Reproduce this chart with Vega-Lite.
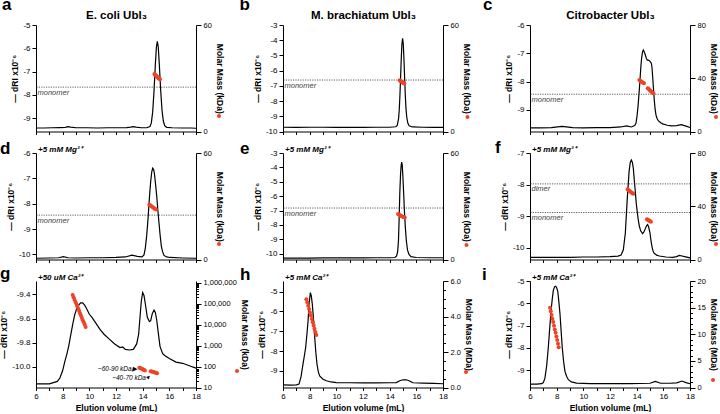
{
"$schema": "https://vega.github.io/schema/vega-lite/v6.json",
"padding": {"left": -1, "top": -5, "right": 0, "bottom": 0},
"config": {"font": "Liberation Sans", "view": {"stroke": null},
  "axis": {"grid": false, "domainColor": "#000", "tickColor": "#000", "labelColor": "#000", "titleColor": "#000", "labelFontSize": 8, "titleFontSize": 8.5, "titleFontWeight": "bold", "tickSize": 4, "labelPadding": 2, "titlePadding": 3, "domainWidth": 1, "tickWidth": 1, "labelFlush": false, "labelOverlap": false},
  "title": {"fontWeight": "bold", "color": "#000", "fontSize": 17, "anchor": "start", "frame": "group", "baseline": "alphabetic", "align": "left"}},
"datasets": {
"one": [{}],
"ri_a": [{"v":6,"ri":-9.42},{"v":6.6,"ri":-9.42},{"v":7.2,"ri":-9.41},{"v":7.8,"ri":-9.4},{"v":8.2,"ri":-9.39},{"v":8.4,"ri":-9.36},{"v":8.6,"ri":-9.38},{"v":9,"ri":-9.41},{"v":9.8,"ri":-9.41},{"v":10.6,"ri":-9.42},{"v":11.4,"ri":-9.41},{"v":12.2,"ri":-9.41},{"v":12.8,"ri":-9.4},{"v":13.1,"ri":-9.38},{"v":13.3,"ri":-9.36},{"v":13.5,"ri":-9.38},{"v":13.9,"ri":-9.41},{"v":14.3,"ri":-9.41},{"v":14.55,"ri":-9.36},{"v":14.65,"ri":-9.2},{"v":14.75,"ri":-8.74},{"v":14.85,"ri":-7.86},{"v":14.95,"ri":-6.7},{"v":15.03,"ri":-5.95},{"v":15.1,"ri":-5.7},{"v":15.17,"ri":-5.95},{"v":15.25,"ri":-6.7},{"v":15.35,"ri":-7.8},{"v":15.45,"ri":-8.65},{"v":15.55,"ri":-9.12},{"v":15.65,"ri":-9.32},{"v":15.8,"ri":-9.39},{"v":16.2,"ri":-9.41},{"v":17,"ri":-9.42},{"v":17.6,"ri":-9.42},{"v":18,"ri":-9.43}],
"mm_a": [{"v":14.88,"m":32.4},{"v":14.93,"m":32.0},{"v":14.98,"m":31.6},{"v":15.03,"m":31.2},{"v":15.08,"m":30.8},{"v":15.13,"m":30.4},{"v":15.18,"m":30.0},{"v":15.23,"m":29.7},{"v":15.3,"m":29.4}],
"ref_a": [{"label":"monomer","m":25}],
"ri_b": [{"v":6,"ri":-9.72},{"v":7,"ri":-9.73},{"v":8,"ri":-9.72},{"v":9,"ri":-9.72},{"v":10,"ri":-9.73},{"v":11,"ri":-9.72},{"v":12,"ri":-9.73},{"v":13,"ri":-9.72},{"v":14,"ri":-9.72},{"v":14.45,"ri":-9.69},{"v":14.57,"ri":-9.6},{"v":14.67,"ri":-9.14},{"v":14.72,"ri":-8.55},{"v":14.77,"ri":-7.62},{"v":14.82,"ri":-6.43},{"v":14.87,"ri":-5.2},{"v":14.92,"ri":-4.23},{"v":14.97,"ri":-3.88},{"v":15.02,"ri":-4.23},{"v":15.07,"ri":-5.2},{"v":15.12,"ri":-6.43},{"v":15.17,"ri":-7.55},{"v":15.22,"ri":-8.45},{"v":15.28,"ri":-9.05},{"v":15.36,"ri":-9.45},{"v":15.46,"ri":-9.62},{"v":15.7,"ri":-9.7},{"v":16.5,"ri":-9.72},{"v":17.3,"ri":-9.73},{"v":18,"ri":-9.73}],
"mm_b": [{"v":14.75,"m":28.9},{"v":14.8,"m":28.6},{"v":14.85,"m":28.3},{"v":14.9,"m":28.0},{"v":14.95,"m":27.7},{"v":15.0,"m":27.4},{"v":15.05,"m":27.2},{"v":15.1,"m":27.0}],
"ref_b": [{"label":"monomer","m":29}],
"ri_c": [{"v":6,"ri":-9.63},{"v":6.8,"ri":-9.63},{"v":7.6,"ri":-9.62},{"v":8.4,"ri":-9.58},{"v":9.2,"ri":-9.62},{"v":10,"ri":-9.63},{"v":11,"ri":-9.62},{"v":12,"ri":-9.62},{"v":12.8,"ri":-9.6},{"v":13.25,"ri":-9.56},{"v":13.6,"ri":-9.6},{"v":13.85,"ri":-9.55},{"v":13.95,"ri":-9.47},{"v":14.03,"ri":-9.2},{"v":14.1,"ri":-8.88},{"v":14.18,"ri":-8.4},{"v":14.25,"ri":-7.94},{"v":14.31,"ri":-7.5},{"v":14.37,"ri":-7.18},{"v":14.44,"ri":-6.95},{"v":14.5,"ri":-6.88},{"v":14.57,"ri":-6.95},{"v":14.65,"ri":-7.06},{"v":14.73,"ri":-7.18},{"v":14.8,"ri":-7.24},{"v":14.88,"ri":-7.24},{"v":14.95,"ri":-7.26},{"v":15.03,"ri":-7.3},{"v":15.1,"ri":-7.35},{"v":15.15,"ri":-7.5},{"v":15.2,"ri":-7.82},{"v":15.26,"ri":-8.25},{"v":15.32,"ri":-8.65},{"v":15.38,"ri":-8.95},{"v":15.45,"ri":-9.18},{"v":15.53,"ri":-9.3},{"v":15.62,"ri":-9.38},{"v":15.8,"ri":-9.45},{"v":15.95,"ri":-9.49},{"v":16.3,"ri":-9.54},{"v":16.6,"ri":-9.56},{"v":17,"ri":-9.55},{"v":17.35,"ri":-9.52},{"v":17.7,"ri":-9.57},{"v":18,"ri":-9.62}],
"mm_c": [{"v":14.2,"m":38.6},{"v":14.27,"m":38.1},{"v":14.34,"m":37.6},{"v":14.41,"m":37.0},{"v":14.48,"m":36.6},{"v":14.55,"m":36.3},{"v":14.83,"m":32.5},{"v":14.9,"m":31.9},{"v":14.97,"m":31.2},{"v":15.04,"m":30.5},{"v":15.11,"m":29.9},{"v":15.18,"m":29.3},{"v":15.25,"m":28.8}],
"ref_c": [{"label":"monomer","m":28}],
"ri_d": [{"v":6,"ri":-10.15},{"v":7,"ri":-10.14},{"v":7.7,"ri":-10.13},{"v":8.05,"ri":-10.09},{"v":8.4,"ri":-10.13},{"v":9,"ri":-10.14},{"v":10,"ri":-10.13},{"v":11,"ri":-10.13},{"v":12,"ri":-10.12},{"v":12.7,"ri":-10.1},{"v":13.2,"ri":-10.03},{"v":13.6,"ri":-10.08},{"v":13.95,"ri":-10.1},{"v":14.1,"ri":-10.02},{"v":14.2,"ri":-9.75},{"v":14.3,"ri":-9.27},{"v":14.38,"ri":-8.75},{"v":14.45,"ri":-8.2},{"v":14.53,"ri":-7.6},{"v":14.6,"ri":-7.13},{"v":14.68,"ri":-6.75},{"v":14.75,"ri":-6.6},{"v":14.82,"ri":-6.65},{"v":14.88,"ri":-6.8},{"v":14.96,"ri":-7.2},{"v":15.05,"ri":-7.67},{"v":15.13,"ri":-8.2},{"v":15.22,"ri":-8.73},{"v":15.31,"ri":-9.25},{"v":15.4,"ri":-9.67},{"v":15.5,"ri":-9.9},{"v":15.6,"ri":-10.04},{"v":15.8,"ri":-10.1},{"v":16.05,"ri":-10.12},{"v":17,"ri":-10.14},{"v":18,"ri":-10.15}],
"mm_d": [{"v":14.5,"m":30.9},{"v":14.57,"m":30.5},{"v":14.64,"m":30.1},{"v":14.71,"m":29.7},{"v":14.78,"m":29.3},{"v":14.86,"m":28.9},{"v":14.93,"m":28.5},{"v":15.0,"m":28.2}],
"ref_d": [{"label":"monomer","m":25}],
"ri_e": [{"v":6,"ri":-10.3},{"v":7,"ri":-10.3},{"v":8,"ri":-10.3},{"v":9,"ri":-10.29},{"v":10,"ri":-10.29},{"v":11,"ri":-10.29},{"v":12,"ri":-10.29},{"v":13,"ri":-10.28},{"v":14,"ri":-10.28},{"v":14.4,"ri":-10.26},{"v":14.52,"ri":-10.15},{"v":14.6,"ri":-9.85},{"v":14.66,"ri":-9.1},{"v":14.71,"ri":-7.6},{"v":14.76,"ri":-5.8},{"v":14.82,"ri":-4.4},{"v":14.87,"ri":-3.8},{"v":14.9,"ri":-3.63},{"v":14.94,"ri":-3.8},{"v":14.99,"ri":-4.6},{"v":15.04,"ri":-5.6},{"v":15.1,"ri":-6.9},{"v":15.17,"ri":-8.1},{"v":15.25,"ri":-9.1},{"v":15.34,"ri":-9.75},{"v":15.45,"ri":-10.05},{"v":15.6,"ri":-10.2},{"v":16,"ri":-10.26},{"v":17,"ri":-10.28},{"v":18,"ri":-10.28}],
"mm_e": [{"v":14.63,"m":25.6},{"v":14.7,"m":25.3},{"v":14.77,"m":25.0},{"v":14.84,"m":24.7},{"v":14.91,"m":24.4},{"v":14.98,"m":24.1},{"v":15.05,"m":23.9},{"v":15.13,"m":23.7}],
"ref_e": [{"label":"monomer","m":29}],
"ri_f": [{"v":6,"ri":-10.31},{"v":7,"ri":-10.31},{"v":8,"ri":-10.31},{"v":9,"ri":-10.31},{"v":10,"ri":-10.3},{"v":11,"ri":-10.3},{"v":12,"ri":-10.29},{"v":12.6,"ri":-10.27},{"v":12.83,"ri":-10.24},{"v":13.0,"ri":-10.07},{"v":13.15,"ri":-9.54},{"v":13.28,"ri":-8.56},{"v":13.43,"ri":-7.59},{"v":13.52,"ri":-7.3},{"v":13.6,"ri":-7.22},{"v":13.68,"ri":-7.3},{"v":13.75,"ri":-7.49},{"v":13.82,"ri":-7.85},{"v":13.9,"ri":-8.24},{"v":13.97,"ri":-8.6},{"v":14.05,"ri":-8.89},{"v":14.12,"ri":-9.12},{"v":14.2,"ri":-9.32},{"v":14.3,"ri":-9.47},{"v":14.45,"ri":-9.56},{"v":14.55,"ri":-9.5},{"v":14.65,"ri":-9.4},{"v":14.75,"ri":-9.3},{"v":14.82,"ri":-9.27},{"v":14.9,"ri":-9.35},{"v":15.0,"ri":-9.54},{"v":15.08,"ri":-9.8},{"v":15.15,"ri":-9.97},{"v":15.22,"ri":-10.1},{"v":15.3,"ri":-10.18},{"v":15.5,"ri":-10.24},{"v":15.7,"ri":-10.27},{"v":16.2,"ri":-10.3},{"v":16.7,"ri":-10.31},{"v":17.0,"ri":-10.29},{"v":17.2,"ri":-10.25},{"v":17.4,"ri":-10.27},{"v":17.6,"ri":-10.29},{"v":18,"ri":-10.33}],
"mm_f": [{"v":13.32,"m":52.7},{"v":13.39,"m":52.1},{"v":13.46,"m":51.5},{"v":13.54,"m":50.9},{"v":13.61,"m":50.3},{"v":13.68,"m":49.8},{"v":13.75,"m":49.4},{"v":14.77,"m":30.3},{"v":14.83,"m":29.9},{"v":14.89,"m":29.5},{"v":14.95,"m":29.1},{"v":15.01,"m":28.7},{"v":15.07,"m":28.3}],
"ref_f": [{"label":"dimer","m":56.8},{"label":"monomer","m":35.3}],
"ri_g": [{"v":6,"ri":-10.14},{"v":6.5,"ri":-10.14},{"v":7,"ri":-10.14},{"v":7.3,"ri":-10.13},{"v":7.6,"ri":-10.12},{"v":7.8,"ri":-10.09},{"v":8.0,"ri":-10.03},{"v":8.15,"ri":-9.96},{"v":8.3,"ri":-9.9},{"v":8.45,"ri":-9.83},{"v":8.6,"ri":-9.74},{"v":8.75,"ri":-9.65},{"v":8.9,"ri":-9.57},{"v":9.05,"ri":-9.52},{"v":9.2,"ri":-9.49},{"v":9.35,"ri":-9.47},{"v":9.5,"ri":-9.47},{"v":9.65,"ri":-9.49},{"v":9.8,"ri":-9.52},{"v":10.0,"ri":-9.565},{"v":10.2,"ri":-9.59},{"v":10.5,"ri":-9.64},{"v":10.8,"ri":-9.69},{"v":11.1,"ri":-9.73},{"v":11.5,"ri":-9.77},{"v":11.9,"ri":-9.81},{"v":12.3,"ri":-9.84},{"v":12.5,"ri":-9.835},{"v":12.7,"ri":-9.855},{"v":13.0,"ri":-9.86},{"v":13.3,"ri":-9.855},{"v":13.55,"ri":-9.81},{"v":13.7,"ri":-9.73},{"v":13.8,"ri":-9.59},{"v":13.9,"ri":-9.455},{"v":14.0,"ri":-9.386},{"v":14.1,"ri":-9.41},{"v":14.2,"ri":-9.48},{"v":14.35,"ri":-9.59},{"v":14.5,"ri":-9.625},{"v":14.6,"ri":-9.62},{"v":14.72,"ri":-9.56},{"v":14.85,"ri":-9.53},{"v":14.95,"ri":-9.55},{"v":15.05,"ri":-9.61},{"v":15.15,"ri":-9.7},{"v":15.3,"ri":-9.83},{"v":15.5,"ri":-9.89},{"v":15.7,"ri":-9.91},{"v":16.0,"ri":-9.93},{"v":16.5,"ri":-9.96},{"v":17.0,"ri":-9.97},{"v":17.5,"ri":-9.99},{"v":18.0,"ri":-10.01}],
"mm_g": [{"v":8.75,"m":257000},{"v":8.82,"m":200000},{"v":8.89,"m":155000},{"v":8.96,"m":120000},{"v":9.03,"m":95500},{"v":9.1,"m":74100},{"v":9.17,"m":57500},{"v":9.24,"m":44700},{"v":9.3,"m":34700},{"v":9.37,"m":26900},{"v":9.44,"m":20900},{"v":9.51,"m":16200},{"v":9.58,"m":12900},{"v":9.65,"m":10000},{"v":9.72,"m":7760},{"v":13.75,"m":88},{"v":13.82,"m":84},{"v":13.89,"m":80},{"v":13.96,"m":76},{"v":14.03,"m":72},{"v":14.1,"m":68},{"v":14.17,"m":65},{"v":14.6,"m":60},{"v":14.68,"m":58},{"v":14.76,"m":56},{"v":14.84,"m":54},{"v":14.92,"m":52},{"v":15.0,"m":50},{"v":15.08,"m":48}],
"ri_h": [{"v":6,"ri":-9.71},{"v":6.6,"ri":-9.72},{"v":7,"ri":-9.71},{"v":7.2,"ri":-9.67},{"v":7.35,"ri":-9.3},{"v":7.5,"ri":-8.66},{"v":7.6,"ri":-8.25},{"v":7.7,"ri":-7.82},{"v":7.8,"ri":-7.1},{"v":7.88,"ri":-6.48},{"v":7.96,"ri":-5.6},{"v":8.05,"ri":-5.05},{"v":8.12,"ri":-5.2},{"v":8.2,"ri":-5.64},{"v":8.3,"ri":-6.5},{"v":8.38,"ri":-7.32},{"v":8.46,"ri":-8.05},{"v":8.55,"ri":-8.66},{"v":8.65,"ri":-9.05},{"v":8.75,"ri":-9.25},{"v":9,"ri":-9.42},{"v":9.25,"ri":-9.5},{"v":9.6,"ri":-9.56},{"v":10,"ri":-9.59},{"v":11,"ri":-9.6},{"v":12,"ri":-9.61},{"v":13,"ri":-9.61},{"v":14,"ri":-9.6},{"v":14.5,"ri":-9.59},{"v":14.75,"ri":-9.5},{"v":15,"ri":-9.45},{"v":15.25,"ri":-9.45},{"v":15.45,"ri":-9.5},{"v":15.75,"ri":-9.6},{"v":16.5,"ri":-9.62},{"v":17.3,"ri":-9.63},{"v":18,"ri":-9.65}],
"mm_h": [{"v":7.75,"m":4.97},{"v":7.82,"m":4.8},{"v":7.89,"m":4.6},{"v":7.96,"m":4.42},{"v":8.02,"m":4.23},{"v":8.09,"m":4.05},{"v":8.16,"m":3.86},{"v":8.23,"m":3.67},{"v":8.3,"m":3.5},{"v":8.36,"m":3.31},{"v":8.43,"m":3.13},{"v":8.5,"m":2.96}],
"ri_i": [{"v":6,"ri":-9.62},{"v":6.5,"ri":-9.62},{"v":6.88,"ri":-9.6},{"v":7.0,"ri":-9.55},{"v":7.12,"ri":-9.35},{"v":7.25,"ri":-8.8},{"v":7.37,"ri":-8.0},{"v":7.48,"ri":-7.1},{"v":7.58,"ri":-6.33},{"v":7.67,"ri":-5.8},{"v":7.75,"ri":-5.42},{"v":7.85,"ri":-5.25},{"v":7.93,"ri":-5.23},{"v":8.0,"ri":-5.3},{"v":8.08,"ri":-5.45},{"v":8.16,"ri":-5.9},{"v":8.25,"ri":-6.48},{"v":8.33,"ri":-7.2},{"v":8.42,"ri":-7.99},{"v":8.52,"ri":-8.6},{"v":8.62,"ri":-9.05},{"v":8.75,"ri":-9.28},{"v":8.88,"ri":-9.42},{"v":9.1,"ri":-9.52},{"v":9.5,"ri":-9.57},{"v":10.5,"ri":-9.6},{"v":12,"ri":-9.6},{"v":13.5,"ri":-9.6},{"v":15,"ri":-9.58},{"v":15.4,"ri":-9.5},{"v":15.8,"ri":-9.58},{"v":16.5,"ri":-9.58},{"v":17,"ri":-9.56},{"v":17.4,"ri":-9.48},{"v":17.7,"ri":-9.55},{"v":18,"ri":-9.6}],
"mm_i": [{"v":7.5,"m":15.0},{"v":7.56,"m":14.3},{"v":7.62,"m":13.6},{"v":7.68,"m":12.9},{"v":7.74,"m":12.3},{"v":7.8,"m":11.6},{"v":7.86,"m":10.9},{"v":7.92,"m":10.3},{"v":7.98,"m":9.6},{"v":8.04,"m":8.9},{"v":8.1,"m":8.2},{"v":8.15,"m":7.55}]
},
"columns": 3,
"bounds": "flush",
"align": "all",
"spacing": {"row": 21, "column": 87},
"resolve": {"scale": {"color": "independent"}, "legend": {"color": "independent"}},
"concat": [
{"width":160,"height":106.5,
 "title":{"text":"a","dx":-34,"offset":-4.5},
 "layer":[
  {"data":{"name":"ri_a"},"mark":{"type":"line","color":"#000","strokeWidth":1.2},
   "encoding":{"x":{"field":"v","type":"quantitative","scale":{"domain":[6,18],"nice":false,"zero":false},"axis":{"orient":"bottom","values":[6,7,8,9,10,11,12,13,14,15,16,17,18],"labels":false,"title":null,"tickSize":3}},
    "y":{"field":"ri","type":"quantitative","scale":{"domain":[-9.57,-5],"nice":false,"zero":false},"axis":{"orient":"left","values":[-9,-8,-7,-6,-5],"labelExpr":"replace(datum.label,'\u2212','-')","title":"— dRI x10⁻⁶"}}}},
  {"layer":[
    {"data":{"name":"ref_a"},"mark":{"type":"rule","color":"#333","strokeDash":[1.2,1.2],"strokeWidth":0.8},"encoding":{"y":{"field":"m","type":"quantitative"}}},
    {"data":{"name":"ref_a"},"mark":{"type":"text","align":"left","baseline":"top","dx":1.5,"dy":1.5,"fontStyle":"italic","fontSize":7.5,"color":"#444"},"encoding":{"x":{"datum":6,"type":"quantitative","scale":{"domain":[6,18],"nice":false,"zero":false}},"y":{"field":"m","type":"quantitative"},"text":{"field":"label"}}},
    {"data":{"name":"mm_a"},"mark":{"type":"point","filled":true,"size":16,"opacity":1},
     "encoding":{"x":{"field":"v","type":"quantitative","scale":{"domain":[6,18],"nice":false,"zero":false},"axis":{"orient":"top","domain":false,"ticks":false,"labels":false,"title":"E. coli Ubl₃","titleX":80,"titleY":-6.5,"titleAlign":"center","titleBaseline":"alphabetic","titleAngle":0,"titleFontSize":11.5}},
      "y":{"field":"m","type":"quantitative","scale":{"domain":[0,60],"nice":false,"zero":false},"axis":{"orient":"right","values":[0,5,10,15,20,25,30,35,40,45,50,55,60],"labelExpr":"datum.value % 20 === 0 ? datum.label : ''","tickSize":{"condition":{"test":"datum.value % 20 === 0","value":5},"value":2.5},"labelFontSize":7.5,"title":"Molar Mass (kDa)\u00a0\u00a0"}},
      "color":{"datum":"Molar Mass","type":"nominal","scale":{"range":["#ef4326"]},"legend":{"orient":"none","legendX":181,"legendY":89,"title":null,"labelExpr":"''","symbolType":"circle","symbolSize":16,"symbolStrokeWidth":0,"padding":0,"labelFontSize":1,"labelLimit":1}}}}
  ]}],
 "resolve":{"scale":{"x":"independent","y":"independent"}}},
{"width":160,"height":106.5,
 "title":{"text":"b","dx":-43.5,"offset":-4.3},
 "layer":[
  {"data":{"name":"ri_b"},"mark":{"type":"line","color":"#000","strokeWidth":1.2},
   "encoding":{"x":{"field":"v","type":"quantitative","scale":{"domain":[6,18],"nice":false,"zero":false},"axis":{"orient":"bottom","values":[6,7,8,9,10,11,12,13,14,15,16,17,18],"labels":false,"title":null,"tickSize":3}},
    "y":{"field":"ri","type":"quantitative","scale":{"domain":[-10,-3],"nice":false,"zero":false},"axis":{"orient":"left","values":[-10,-9,-8,-7,-6,-5,-4,-3],"labelExpr":"replace(datum.label,'\u2212','-')","title":"— dRI x10⁻⁶"}}}},
  {"layer":[
    {"data":{"name":"ref_b"},"mark":{"type":"rule","color":"#333","strokeDash":[1.2,1.2],"strokeWidth":0.8},"encoding":{"y":{"field":"m","type":"quantitative"}}},
    {"data":{"name":"ref_b"},"mark":{"type":"text","align":"left","baseline":"top","dx":1.5,"dy":1.5,"fontStyle":"italic","fontSize":7.5,"color":"#444"},"encoding":{"x":{"datum":6,"type":"quantitative","scale":{"domain":[6,18],"nice":false,"zero":false}},"y":{"field":"m","type":"quantitative"},"text":{"field":"label"}}},
    {"data":{"name":"mm_b"},"mark":{"type":"point","filled":true,"size":16,"opacity":1},
     "encoding":{"x":{"field":"v","type":"quantitative","scale":{"domain":[6,18],"nice":false,"zero":false},"axis":{"orient":"top","domain":false,"ticks":false,"labels":false,"title":"M. brachiatum Ubl₃","titleX":80,"titleY":-6.5,"titleAlign":"center","titleBaseline":"alphabetic","titleAngle":0,"titleFontSize":11.5}},
      "y":{"field":"m","type":"quantitative","scale":{"domain":[0,60],"nice":false,"zero":false},"axis":{"orient":"right","values":[0,5,10,15,20,25,30,35,40,45,50,55,60],"labelExpr":"datum.value % 20 === 0 ? datum.label : ''","tickSize":{"condition":{"test":"datum.value % 20 === 0","value":5},"value":2.5},"labelFontSize":7.5,"title":"Molar Mass (kDa)\u00a0\u00a0"}},
      "color":{"datum":"Molar Mass","type":"nominal","scale":{"range":["#ef4326"]},"legend":{"orient":"none","legendX":182.5,"legendY":90,"title":null,"labelExpr":"''","symbolType":"circle","symbolSize":16,"symbolStrokeWidth":0,"padding":0,"labelFontSize":1,"labelLimit":1}}}}
  ]}],
 "resolve":{"scale":{"x":"independent","y":"independent"}}},
{"width":160,"height":106.5,
 "title":{"text":"c","dx":-47,"offset":-4.3},
 "layer":[
  {"data":{"name":"ri_c"},"mark":{"type":"line","color":"#000","strokeWidth":1.2},
   "encoding":{"x":{"field":"v","type":"quantitative","scale":{"domain":[6,18],"nice":false,"zero":false},"axis":{"orient":"bottom","values":[6,7,8,9,10,11,12,13,14,15,16,17,18],"labels":false,"title":null,"tickSize":3}},
    "y":{"field":"ri","type":"quantitative","scale":{"domain":[-9.76,-6],"nice":false,"zero":false},"axis":{"orient":"left","values":[-9,-8,-7,-6],"labelExpr":"replace(datum.label,'\u2212','-')","title":"— dRI x10⁻⁶"}}}},
  {"layer":[
    {"data":{"name":"ref_c"},"mark":{"type":"rule","color":"#333","strokeDash":[1.2,1.2],"strokeWidth":0.8},"encoding":{"y":{"field":"m","type":"quantitative"}}},
    {"data":{"name":"ref_c"},"mark":{"type":"text","align":"left","baseline":"top","dx":1.5,"dy":1.5,"fontStyle":"italic","fontSize":7.5,"color":"#444"},"encoding":{"x":{"datum":6,"type":"quantitative","scale":{"domain":[6,18],"nice":false,"zero":false}},"y":{"field":"m","type":"quantitative"},"text":{"field":"label"}}},
    {"data":{"name":"mm_c"},"mark":{"type":"point","filled":true,"size":16,"opacity":1},
     "encoding":{"x":{"field":"v","type":"quantitative","scale":{"domain":[6,18],"nice":false,"zero":false},"axis":{"orient":"top","domain":false,"ticks":false,"labels":false,"title":"Citrobacter Ubl₃","titleX":80,"titleY":-6.5,"titleAlign":"center","titleBaseline":"alphabetic","titleAngle":0,"titleFontSize":11.5}},
      "y":{"field":"m","type":"quantitative","scale":{"domain":[0,80],"nice":false,"zero":false},"axis":{"orient":"right","values":[0,5,10,15,20,25,30,35,40,45,50,55,60,65,70,75,80],"labelExpr":"datum.value % 20 === 0 ? datum.label : ''","tickSize":{"condition":{"test":"datum.value % 20 === 0","value":5},"value":2.5},"labelFontSize":7.5,"title":"Molar Mass (kDa)\u00a0\u00a0"}},
      "color":{"datum":"Molar Mass","type":"nominal","scale":{"range":["#ef4326"]},"legend":{"orient":"none","legendX":184,"legendY":90,"title":null,"labelExpr":"''","symbolType":"circle","symbolSize":16,"symbolStrokeWidth":0,"padding":0,"labelFontSize":1,"labelLimit":1}}}}
  ]}],
 "resolve":{"scale":{"x":"independent","y":"independent"}}},
{"width":160,"height":106.5,
 "title":{"text":"d","dx":-36,"offset":-12.7},
 "layer":[
  {"data":{"name":"ri_d"},"mark":{"type":"line","color":"#000","strokeWidth":1.2},
   "encoding":{"x":{"field":"v","type":"quantitative","scale":{"domain":[6,18],"nice":false,"zero":false},"axis":{"orient":"bottom","values":[6,7,8,9,10,11,12,13,14,15,16,17,18],"labels":false,"title":null,"tickSize":3}},
    "y":{"field":"ri","type":"quantitative","scale":{"domain":[-10.2,-6],"nice":false,"zero":false},"axis":{"orient":"left","values":[-10,-9,-8,-7,-6],"labelExpr":"replace(datum.label,'\u2212','-')","title":"— dRI x10⁻⁶"}}}},
  {"layer":[
    {"data":{"name":"ref_d"},"mark":{"type":"rule","color":"#333","strokeDash":[1.2,1.2],"strokeWidth":0.8},"encoding":{"y":{"field":"m","type":"quantitative"}}},
    {"data":{"name":"ref_d"},"mark":{"type":"text","align":"left","baseline":"top","dx":1.5,"dy":1.5,"fontStyle":"italic","fontSize":7.5,"color":"#444"},"encoding":{"x":{"datum":6,"type":"quantitative","scale":{"domain":[6,18],"nice":false,"zero":false}},"y":{"field":"m","type":"quantitative"},"text":{"field":"label"}}},
    {"data":{"name":"mm_d"},"mark":{"type":"point","filled":true,"size":16,"opacity":1},
     "encoding":{"x":{"field":"v","type":"quantitative","scale":{"domain":[6,18],"nice":false,"zero":false},"axis":{"orient":"top","domain":false,"ticks":false,"labels":false,"title":"+5 mM Mg²⁺","titleX":1.5,"titleY":-2,"titleAlign":"left","titleBaseline":"alphabetic","titleAngle":0,"titleFontSize":8,"titleFontStyle":"italic"}},
      "y":{"field":"m","type":"quantitative","scale":{"domain":[0,60],"nice":false,"zero":false},"axis":{"orient":"right","values":[0,5,10,15,20,25,30,35,40,45,50,55,60],"labelExpr":"datum.value % 20 === 0 ? datum.label : ''","tickSize":{"condition":{"test":"datum.value % 20 === 0","value":5},"value":2.5},"labelFontSize":7.5,"title":"Molar Mass (kDa)\u00a0\u00a0"}},
      "color":{"datum":"Molar Mass","type":"nominal","scale":{"range":["#ef4326"]},"legend":{"orient":"none","legendX":181,"legendY":89,"title":null,"labelExpr":"''","symbolType":"circle","symbolSize":16,"symbolStrokeWidth":0,"padding":0,"labelFontSize":1,"labelLimit":1}}}}
  ]}],
 "resolve":{"scale":{"x":"independent","y":"independent"}}},
{"width":160,"height":106.5,
 "title":{"text":"e","dx":-43,"offset":-13},
 "layer":[
  {"data":{"name":"ri_e"},"mark":{"type":"line","color":"#000","strokeWidth":1.2},
   "encoding":{"x":{"field":"v","type":"quantitative","scale":{"domain":[6,18],"nice":false,"zero":false},"axis":{"orient":"bottom","values":[6,7,8,9,10,11,12,13,14,15,16,17,18],"labels":false,"title":null,"tickSize":3}},
    "y":{"field":"ri","type":"quantitative","scale":{"domain":[-10.4,-3],"nice":false,"zero":false},"axis":{"orient":"left","values":[-10,-9,-8,-7,-6,-5,-4,-3],"labelExpr":"replace(datum.label,'\u2212','-')","title":"— dRI x10⁻⁶"}}}},
  {"layer":[
    {"data":{"name":"ref_e"},"mark":{"type":"rule","color":"#333","strokeDash":[1.2,1.2],"strokeWidth":0.8},"encoding":{"y":{"field":"m","type":"quantitative"}}},
    {"data":{"name":"ref_e"},"mark":{"type":"text","align":"left","baseline":"top","dx":1.5,"dy":1.5,"fontStyle":"italic","fontSize":7.5,"color":"#444"},"encoding":{"x":{"datum":6,"type":"quantitative","scale":{"domain":[6,18],"nice":false,"zero":false}},"y":{"field":"m","type":"quantitative"},"text":{"field":"label"}}},
    {"data":{"name":"mm_e"},"mark":{"type":"point","filled":true,"size":16,"opacity":1},
     "encoding":{"x":{"field":"v","type":"quantitative","scale":{"domain":[6,18],"nice":false,"zero":false},"axis":{"orient":"top","domain":false,"ticks":false,"labels":false,"title":"+5 mM Mg²⁺","titleX":1.5,"titleY":-2,"titleAlign":"left","titleBaseline":"alphabetic","titleAngle":0,"titleFontSize":8,"titleFontStyle":"italic"}},
      "y":{"field":"m","type":"quantitative","scale":{"domain":[0,60],"nice":false,"zero":false},"axis":{"orient":"right","values":[0,5,10,15,20,25,30,35,40,45,50,55,60],"labelExpr":"datum.value % 20 === 0 ? datum.label : ''","tickSize":{"condition":{"test":"datum.value % 20 === 0","value":5},"value":2.5},"labelFontSize":7.5,"title":"Molar Mass (kDa)\u00a0\u00a0"}},
      "color":{"datum":"Molar Mass","type":"nominal","scale":{"range":["#ef4326"]},"legend":{"orient":"none","legendX":181.5,"legendY":90,"title":null,"labelExpr":"''","symbolType":"circle","symbolSize":16,"symbolStrokeWidth":0,"padding":0,"labelFontSize":1,"labelLimit":1}}}}
  ]}],
 "resolve":{"scale":{"x":"independent","y":"independent"}}},
{"width":160,"height":106.5,
 "title":{"text":"f","dx":-35,"offset":-11.7},
 "layer":[
  {"data":{"name":"ri_f"},"mark":{"type":"line","color":"#000","strokeWidth":1.2},
   "encoding":{"x":{"field":"v","type":"quantitative","scale":{"domain":[6,18],"nice":false,"zero":false},"axis":{"orient":"bottom","values":[6,7,8,9,10,11,12,13,14,15,16,17,18],"labels":false,"title":null,"tickSize":3}},
    "y":{"field":"ri","type":"quantitative","scale":{"domain":[-10.38,-7],"nice":false,"zero":false},"axis":{"orient":"left","values":[-10,-9,-8,-7],"labelExpr":"replace(datum.label,'\u2212','-')","title":"— dRI x10⁻⁶"}}}},
  {"layer":[
    {"data":{"name":"ref_f"},"mark":{"type":"rule","color":"#333","strokeDash":[1.2,1.2],"strokeWidth":0.8},"encoding":{"y":{"field":"m","type":"quantitative"}}},
    {"data":{"name":"ref_f"},"mark":{"type":"text","align":"left","baseline":"top","dx":1.5,"dy":1.5,"fontStyle":"italic","fontSize":7.5,"color":"#444"},"encoding":{"x":{"datum":6,"type":"quantitative","scale":{"domain":[6,18],"nice":false,"zero":false}},"y":{"field":"m","type":"quantitative"},"text":{"field":"label"}}},
    {"data":{"name":"mm_f"},"mark":{"type":"point","filled":true,"size":16,"opacity":1},
     "encoding":{"x":{"field":"v","type":"quantitative","scale":{"domain":[6,18],"nice":false,"zero":false},"axis":{"orient":"top","domain":false,"ticks":false,"labels":false,"title":"+5 mM Mg²⁺","titleX":1.5,"titleY":-2,"titleAlign":"left","titleBaseline":"alphabetic","titleAngle":0,"titleFontSize":8,"titleFontStyle":"italic"}},
      "y":{"field":"m","type":"quantitative","scale":{"domain":[0,80],"nice":false,"zero":false},"axis":{"orient":"right","values":[0,5,10,15,20,25,30,35,40,45,50,55,60,65,70,75,80],"labelExpr":"datum.value % 20 === 0 ? datum.label : ''","tickSize":{"condition":{"test":"datum.value % 20 === 0","value":5},"value":2.5},"labelFontSize":7.5,"title":"Molar Mass (kDa)\u00a0\u00a0"}},
      "color":{"datum":"Molar Mass","type":"nominal","scale":{"range":["#ef4326"]},"legend":{"orient":"none","legendX":184,"legendY":89,"title":null,"labelExpr":"''","symbolType":"circle","symbolSize":16,"symbolStrokeWidth":0,"padding":0,"labelFontSize":1,"labelLimit":1}}}}
  ]}],
 "resolve":{"scale":{"x":"independent","y":"independent"}}},
{"width":160,"height":106.5,
 "title":{"text":"g","dx":-36,"offset":-10},
 "layer":[
  {"data":{"name":"ri_g"},"mark":{"type":"line","color":"#000","strokeWidth":1.2},
   "encoding":{"x":{"field":"v","type":"quantitative","scale":{"domain":[6,18],"nice":false,"zero":false},"axis":{"orient":"bottom","values":[6,7,8,9,10,11,12,13,14,15,16,17,18],"labelExpr":"datum.value % 2 === 0 ? datum.label : ''","title":"Elution volume (mL)","tickSize":3,"labelFontSize":8}},
    "y":{"field":"ri","type":"quantitative","scale":{"domain":[-10.17,-9.29],"nice":false,"zero":false},"axis":{"orient":"left","values":[-10,-9.8,-9.6,-9.4],"format":".1f","labelExpr":"replace(datum.label,'\u2212','-')","title":"— dRI x10⁻⁶"}}}},
  {"layer":[
    {"data":{"name":"one"},"mark":{"type":"text","text":"~60-90 kDa▶","align":"right","baseline":"middle","fontStyle":"italic","fontSize":6.5,"color":"#000"},"encoding":{"x":{"datum":13.55,"type":"quantitative","scale":{"domain":[6,18],"nice":false,"zero":false}},"y":{"datum":80,"type":"quantitative"}}},
    {"data":{"name":"one"},"mark":{"type":"text","text":"~40-70 kDa","align":"right","baseline":"middle","fontStyle":"italic","fontSize":6.5,"color":"#000"},"encoding":{"x":{"datum":14.25,"type":"quantitative"},"y":{"datum":27,"type":"quantitative"}}},
    {"data":{"name":"one"},"mark":{"type":"text","text":"▲","align":"center","baseline":"middle","angle":45,"fontSize":6,"color":"#000"},"encoding":{"x":{"datum":14.45,"type":"quantitative"},"y":{"datum":32,"type":"quantitative"}}},
    {"data":{"name":"mm_g"},"mark":{"type":"point","filled":true,"size":16,"opacity":1},
     "encoding":{"x":{"field":"v","type":"quantitative","scale":{"domain":[6,18],"nice":false,"zero":false},"axis":{"orient":"top","domain":false,"ticks":false,"labels":false,"title":"+50 uM Ca²⁺","titleX":1.5,"titleY":-2,"titleAlign":"left","titleBaseline":"alphabetic","titleAngle":0,"titleFontSize":8,"titleFontStyle":"italic"}},
      "y":{"field":"m","type":"quantitative","scale":{"type":"log","domain":[10,1200000],"nice":false},"axis":{"orient":"right","values":[10,20,30,40,50,60,70,80,90,100,200,300,400,500,600,700,800,900,1000,2000,3000,4000,5000,6000,7000,8000,9000,10000,20000,30000,40000,50000,60000,70000,80000,90000,100000,200000,300000,400000,500000,600000,700000,800000,900000,1000000],"format":",","labelExpr":"(datum.value == 10 || datum.value == 100 || datum.value == 1000 || datum.value == 10000 || datum.value == 100000 || datum.value == 1000000) ? datum.label : ''","tickSize":{"condition":{"test":"datum.value == 10 || datum.value == 100 || datum.value == 1000 || datum.value == 10000 || datum.value == 100000 || datum.value == 1000000","value":5},"value":2.5},"labelFontSize":7.5,"title":"Molar Mass (kDa)\u00a0\u00a0"}},
      "color":{"datum":"Molar Mass","type":"nominal","scale":{"range":["#ef4326"]},"legend":{"orient":"none","legendX":199,"legendY":88,"title":null,"labelExpr":"''","symbolType":"circle","symbolSize":16,"symbolStrokeWidth":0,"padding":0,"labelFontSize":1,"labelLimit":1}}}}
  ]}],
 "resolve":{"scale":{"x":"independent","y":"independent"}}},
{"width":160,"height":106.5,
 "title":{"text":"h","dx":-43,"offset":-11.3},
 "layer":[
  {"data":{"name":"ri_h"},"mark":{"type":"line","color":"#000","strokeWidth":1.2},
   "encoding":{"x":{"field":"v","type":"quantitative","scale":{"domain":[6,18],"nice":false,"zero":false},"axis":{"orient":"bottom","values":[6,7,8,9,10,11,12,13,14,15,16,17,18],"labelExpr":"datum.value % 2 === 0 ? datum.label : ''","title":"Elution volume (mL)","tickSize":3,"labelFontSize":8}},
    "y":{"field":"ri","type":"quantitative","scale":{"domain":[-9.84,-4.46],"nice":false,"zero":false},"axis":{"orient":"left","values":[-9,-8,-7,-6,-5],"labelExpr":"replace(datum.label,'\u2212','-')","title":"— dRI x10⁻⁶"}}}},
  {"layer":[
    {"data":{"name":"mm_h"},"mark":{"type":"point","filled":true,"size":16,"opacity":1},
     "encoding":{"x":{"field":"v","type":"quantitative","scale":{"domain":[6,18],"nice":false,"zero":false},"axis":{"orient":"top","domain":false,"ticks":false,"labels":false,"title":"+5 mM Ca²⁺","titleX":1.5,"titleY":-2,"titleAlign":"left","titleBaseline":"alphabetic","titleAngle":0,"titleFontSize":8,"titleFontStyle":"italic"}},
      "y":{"field":"m","type":"quantitative","scale":{"domain":[0,6],"nice":false,"zero":false},"axis":{"orient":"right","values":[0,0.5,1,1.5,2,2.5,3,3.5,4,4.5,5,5.5,6],"labelExpr":"datum.value % 2 === 0 ? datum.label : ''","tickSize":{"condition":{"test":"datum.value % 2 === 0","value":5},"value":2.5},"labelFontSize":7.5,"title":"Molar Mass (MDa)\u00a0\u00a0"}},
      "color":{"datum":"Molar Mass","type":"nominal","scale":{"range":["#ef4326"]},"legend":{"orient":"none","legendX":181,"legendY":89,"title":null,"labelExpr":"''","symbolType":"circle","symbolSize":16,"symbolStrokeWidth":0,"padding":0,"labelFontSize":1,"labelLimit":1}}}}
  ]}],
 "resolve":{"scale":{"x":"independent","y":"independent"}}},
{"width":160,"height":106.5,
 "title":{"text":"i","dx":-48,"offset":-11.3},
 "layer":[
  {"data":{"name":"ri_i"},"mark":{"type":"line","color":"#000","strokeWidth":1.2},
   "encoding":{"x":{"field":"v","type":"quantitative","scale":{"domain":[6,18],"nice":false,"zero":false},"axis":{"orient":"bottom","values":[6,7,8,9,10,11,12,13,14,15,16,17,18],"labelExpr":"datum.value % 2 === 0 ? datum.label : ''","title":"Elution volume (mL)","tickSize":3,"labelFontSize":8}},
    "y":{"field":"ri","type":"quantitative","scale":{"domain":[-9.77,-5],"nice":false,"zero":false},"axis":{"orient":"left","values":[-9,-8,-7,-6,-5],"labelExpr":"replace(datum.label,'\u2212','-')","title":"— dRI x10⁻⁶"}}}},
  {"layer":[
    {"data":{"name":"mm_i"},"mark":{"type":"point","filled":true,"size":16,"opacity":1},
     "encoding":{"x":{"field":"v","type":"quantitative","scale":{"domain":[6,18],"nice":false,"zero":false},"axis":{"orient":"top","domain":false,"ticks":false,"labels":false,"title":"+5 mM Ca²⁺","titleX":1.5,"titleY":-2,"titleAlign":"left","titleBaseline":"alphabetic","titleAngle":0,"titleFontSize":8,"titleFontStyle":"italic"}},
      "y":{"field":"m","type":"quantitative","scale":{"domain":[0,20],"nice":false,"zero":false},"axis":{"orient":"right","values":[0,1,2,3,4,5,6,7,8,9,10,11,12,13,14,15,16,17,18,19,20],"labelExpr":"datum.value % 5 === 0 ? datum.label : ''","tickSize":{"condition":{"test":"datum.value % 5 === 0","value":5},"value":2.5},"labelFontSize":7.5,"title":"Molar Mass (MDa)\u00a0\u00a0"}},
      "color":{"datum":"Molar Mass","type":"nominal","scale":{"range":["#ef4326"]},"legend":{"orient":"none","legendX":181,"legendY":97,"title":null,"labelExpr":"''","symbolType":"circle","symbolSize":16,"symbolStrokeWidth":0,"padding":0,"labelFontSize":1,"labelLimit":1}}}}
  ]}],
 "resolve":{"scale":{"x":"independent","y":"independent"}}}
]
}
